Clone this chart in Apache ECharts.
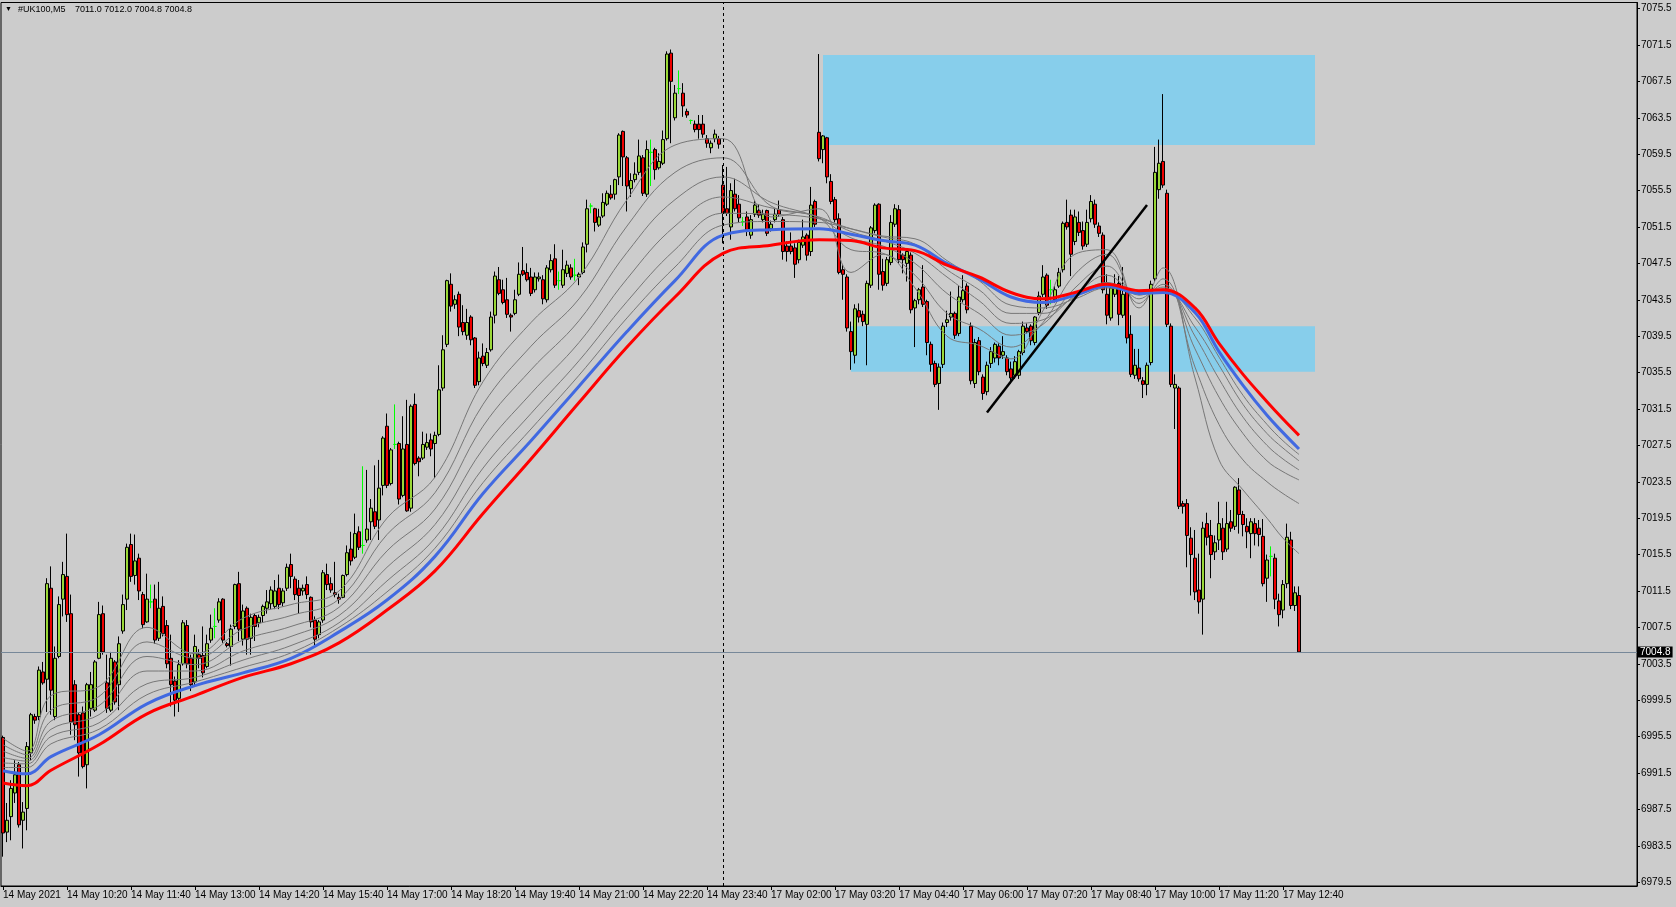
<!DOCTYPE html>
<html><head><meta charset="utf-8">
<script src="https://cdn.jsdelivr.net/npm/echarts@6.0.0/dist/echarts.min.js"></script>
<style>html,body{margin:0;padding:0;background:#CCCCCC;}#c{width:1676px;height:907px;}</style>
</head><body><div id="c"></div>
<script>
// ---- x-axis tick labels (every 16 bars of 5 minutes) ----
const xTickLabels = ['14 May 2021','14 May 10:20','14 May 11:40','14 May 13:00','14 May 14:20','14 May 15:40','14 May 17:00','14 May 18:20','14 May 19:40','14 May 21:00','14 May 22:20','14 May 23:40','17 May 02:00','17 May 03:20','17 May 04:40','17 May 06:00','17 May 07:20','17 May 08:40','17 May 10:00','17 May 11:20','17 May 12:40'];
// ---- price tick labels ----
const yTicks = [6979.5,6983.5,6987.5,6991.5,6995.5,6999.5,7003.5,7007.5,7011.5,7015.5,7019.5,7023.5,7027.5,7031.5,7035.5,7039.5,7043.5,7047.5,7051.5,7055.5,7059.5,7063.5,7067.5,7071.5,7075.5];

// ---- candles ----
const open = [
6995.4,6985.0,6986.7,6989.3,6992.4,6986.3,6987.6,6993.7,6997.7,6997.7,
7002.6,7001.8,7011.8,6997.7,7004.3,7010.6,7013.1,7009.0,7001.2,6997.9,
6998.1,6992.4,6998.6,6998.4,7004.1,7009.0,7001.4,6998.4,7003.7,7001.2,
7007.1,7010.6,7016.6,7013.2,7015.1,7011.1,7008.1,7010.3,7010.6,7006.3,
7009.8,7007.7,7004.1,7001.6,6999.7,7003.5,7007.7,7004.1,7001.5,7004.5,
7004.4,7003.2,7006.1,7007.6,7008.3,7010.6,7005.7,7005.4,7007.6,7012.3,
7006.2,7009.6,7006.3,7008.8,7008.0,7008.8,7009.6,7010.1,7009.8,7011.8,
7010.2,7011.8,7014.4,7012.8,7011.8,7011.5,7012.2,7010.8,7008.3,7006.7,
7008.3,7013.3,7012.3,7011.3,7010.8,7010.8,7013.3,7016.1,7015.2,7018.0,
7016.5,7017.1,7019.1,7020.2,7019.3,7023.1,7029.6,7023.3,7027.6,7027.7,
7022.0,7027.6,7020.6,7032.0,7026.1,7026.1,7027.3,7028.1,7027.7,7028.7,
7033.8,7038.6,7045.2,7043.0,7044.1,7041.0,7039.6,7041.6,7039.3,7034.5,
7037.3,7036.3,7038.0,7041.8,7045.7,7044.6,7043.5,7041.8,7042.0,7044.1,
7046.7,7046.5,7046.0,7044.6,7045.8,7045.7,7043.5,7046.8,7048.0,7045.6,
7045.1,7046.4,7047.0,7046.2,7046.0,7046.5,7049.6,7053.8,7053.5,7051.7,
7052.7,7054.0,7055.1,7055.1,7057.0,7062.0,7059.1,7055.7,7056.7,7057.5,
7059.1,7055.1,7059.7,7060.0,7058.0,7058.5,7061.2,7070.6,7063.5,7066.7,
7066.2,7064.2,7063.2,7062.8,7062.8,7062.8,7061.2,7060.2,7061.2,7061.2,
7056.1,7053.5,7051.5,7055.1,7054.0,7052.1,7052.6,7050.6,7052.9,7053.3,
7052.3,7053.3,7051.3,7052.3,7053.4,7052.3,7049.4,7049.4,7049.2,7047.9,
7049.5,7050.6,7048.8,7054.3,7061.9,7060.0,7061.3,7056.5,7054.5,7052.4,
7046.8,7046.0,7040.0,7037.4,7042.3,7041.9,7040.8,7045.1,7051.1,7054.0,
7046.6,7045.3,7047.6,7051.8,7053.4,7048.4,7047.5,7048.4,7042.6,7043.5,
7044.9,7043.3,7038.6,7036.5,7034.3,7036.4,7041.0,7041.6,7042.0,7039.8,
7043.5,7045.0,7040.6,7034.3,7039.0,7035.0,7033.4,7036.5,7037.1,7038.4,
7037.4,7037.1,7035.9,7035.2,7035.2,7037.7,7040.4,7040.6,7038.8,7042.1,
7044.1,7046.2,7044.6,7043.5,7045.0,7046.8,7052.0,7052.8,7049.9,7052.0,
7051.1,7049.6,7052.4,7054.0,7051.6,7050.6,7044.1,7041.5,7044.1,7045.3,
7041.8,7044.6,7039.7,7035.2,7036.0,7034.6,7034.2,7036.6,7045.8,7055.6,
7058.7,7055.2,7040.6,7033.8,7033.8,7021.1,7021.1,7017.3,7015.1,7011.6,
7010.6,7018.9,7017.6,7015.8,7017.1,7018.4,7016.1,7019.1,7018.6,7022.6,
7019.9,7018.6,7017.8,7018.9,7018.4,7017.5,7012.9,7015.3,7015.1,7010.4,
7009.4,7012.3,7017.1,7009.9,7011.0];
const close = [
6984.9,6986.3,6989.8,6991.3,6985.8,6987.2,6994.4,6997.9,6997.3,7002.8,
7001.4,7012.3,7000.6,7004.1,7010.0,7013.3,7008.9,6997.1,6996.8,6993.7,
6992.2,7001.2,7001.2,7003.7,7008.9,7004.8,6998.6,7004.1,6999.3,7005.7,
7010.0,7016.3,7013.1,7014.8,7011.5,7007.8,7010.6,7010.3,7006.1,7009.6,
7006.8,7003.5,7001.2,6999.5,7003.4,7008.0,7003.5,7001.2,7005.4,7004.1,
7002.5,7005.7,7007.4,7007.6,7010.3,7006.1,7005.5,7007.3,7012.2,7007.3,
7009.3,7006.2,7008.6,7007.6,7008.6,7009.8,7010.3,7011.6,7011.5,7010.0,
7011.5,7014.1,7013.1,7011.1,7011.0,7011.8,7011.1,7008.1,7006.2,7008.1,
7013.5,7012.2,7011.6,7011.1,7010.6,7013.2,7015.7,7014.8,7017.8,7016.3,
7016.5,7018.3,7020.6,7018.6,7022.8,7028.3,7023.1,7027.0,7027.6,7021.6,
7027.1,7020.3,7031.8,7025.5,7025.7,7027.6,7027.8,7027.1,7028.6,7033.6,
7038.0,7045.6,7042.8,7043.5,7040.5,7040.0,7041.0,7039.1,7034.1,7037.1,
7036.5,7037.7,7041.6,7046.1,7044.2,7043.2,7041.9,7041.6,7043.5,7046.3,
7046.3,7045.7,7044.2,7046.0,7046.0,7043.6,7047.0,7047.8,7045.1,7045.6,
7046.8,7047.3,7046.0,7046.2,7046.3,7049.3,7053.5,7053.8,7052.0,7052.6,
7054.2,7055.2,7054.7,7056.7,7061.6,7059.2,7056.0,7056.6,7057.3,7059.3,
7055.2,7060.0,7059.7,7057.8,7058.7,7061.1,7070.5,7067.5,7066.2,7066.7,
7064.8,7063.8,7063.2,7062.2,7062.2,7061.7,7060.7,7060.7,7061.7,7060.6,
7053.0,7053.0,7055.5,7053.5,7052.5,7052.1,7051.0,7052.3,7053.9,7052.8,
7052.9,7050.8,7051.8,7052.9,7052.9,7048.8,7048.8,7048.8,7047.4,7049.8,
7050.4,7048.4,7053.9,7051.8,7059.0,7061.5,7057.0,7054.3,7052.3,7046.5,
7046.3,7040.4,7037.8,7042.5,7041.6,7041.1,7045.3,7051.4,7053.9,7046.3,
7045.1,7047.9,7052.0,7053.5,7047.9,7047.9,7048.8,7042.4,7043.4,7044.6,
7043.0,7038.8,7036.4,7034.2,7036.1,7040.6,7041.3,7042.0,7039.6,7043.8,
7044.5,7042.4,7034.6,7038.8,7035.6,7033.2,7036.3,7037.8,7038.6,7037.1,
7037.8,7035.6,7034.9,7036.7,7037.8,7040.6,7040.0,7039.0,7041.6,7043.9,
7046.0,7042.9,7044.6,7044.6,7046.5,7051.9,7051.5,7048.5,7052.6,7050.9,
7049.4,7052.0,7054.3,7051.8,7050.8,7044.6,7041.8,7044.8,7044.9,7041.9,
7044.1,7039.3,7035.3,7036.3,7034.8,7034.2,7036.3,7045.2,7057.5,7058.5,
7056.1,7040.8,7034.2,7034.2,7020.8,7020.8,7017.6,7015.5,7011.4,7010.3,
7018.4,7017.4,7015.5,7016.8,7018.9,7015.8,7018.9,7018.4,7022.9,7019.9,
7018.8,7018.0,7019.1,7017.8,7017.7,7012.3,7014.9,7015.3,7010.6,7008.9,
7012.2,7017.4,7009.9,7011.3,7004.8];
const high = [
6995.6,6988.2,6990.7,6992.9,6992.7,6988.3,6994.9,6998.1,6998.0,7003.2,
7003.7,7012.9,7014.2,7005.4,7010.9,7014.7,7017.8,7011.1,7001.7,6998.1,
6998.8,7001.4,7002.6,7003.9,7010.3,7009.9,7004.5,7004.8,7003.9,7006.5,
7011.1,7016.7,7017.8,7017.7,7015.6,7011.4,7013.4,7012.2,7012.2,7012.5,
7010.9,7008.3,7006.7,7002.1,7003.9,7008.3,7008.3,7004.5,7006.7,7005.1,
7007.6,7006.7,7008.9,7009.6,7010.7,7010.7,7005.9,7007.8,7012.3,7013.6,
7010.0,7009.8,7009.0,7009.0,7008.9,7010.0,7011.6,7012.0,7012.7,7013.3,
7011.8,7014.5,7015.6,7013.1,7012.7,7012.2,7013.1,7010.9,7008.7,7008.3,
7013.8,7014.5,7013.0,7014.7,7011.2,7013.3,7016.5,7018.0,7020.0,7018.6,
7025.2,7024.8,7021.6,7025.3,7025.9,7028.5,7031.0,7027.2,7032.0,7027.9,
7030.7,7032.5,7032.0,7033.2,7026.3,7029.0,7028.8,7028.8,7029.0,7036.3,
7039.6,7045.7,7046.4,7044.0,7044.4,7042.9,7042.5,7041.8,7039.4,7037.8,
7038.7,7038.2,7042.2,7046.6,7047.1,7045.7,7045.9,7042.0,7044.6,7047.6,
7049.3,7047.5,7047.0,7046.5,7046.5,7046.2,7047.3,7048.5,7049.6,7046.6,
7049.0,7047.8,7047.4,7048.0,7046.5,7049.8,7054.5,7054.1,7053.6,7053.5,
7055.2,7055.5,7056.1,7056.8,7061.8,7062.1,7059.3,7057.4,7058.6,7061.1,
7059.4,7061.0,7061.1,7060.2,7059.6,7062.1,7070.8,7071.0,7067.1,7068.7,
7067.3,7064.5,7063.3,7063.2,7063.8,7063.8,7061.6,7061.0,7062.2,7061.5,
7058.3,7058.1,7056.3,7056.8,7055.0,7052.6,7053.2,7052.8,7054.4,7054.0,
7053.4,7053.4,7052.2,7053.5,7054.4,7052.6,7049.9,7050.9,7049.7,7050.1,
7052.3,7050.8,7055.9,7054.5,7070.5,7061.6,7061.4,7057.3,7054.8,7053.0,
7047.3,7046.3,7041.1,7043.0,7043.1,7042.3,7045.6,7051.6,7054.1,7054.1,
7048.0,7048.2,7052.8,7054.0,7053.9,7048.6,7049.0,7048.7,7043.6,7044.8,
7047.3,7043.5,7038.9,7036.8,7036.5,7041.0,7042.3,7044.4,7042.2,7045.0,
7046.2,7045.3,7041.0,7039.2,7039.4,7035.3,7036.7,7038.3,7038.8,7038.7,
7039.5,7037.4,7036.7,7037.3,7038.0,7041.1,7040.9,7040.8,7041.7,7044.4,
7047.3,7046.4,7045.7,7045.0,7047.0,7052.1,7054.5,7053.4,7053.4,7053.2,
7052.1,7053.4,7055.0,7054.5,7052.0,7050.9,7046.3,7045.2,7046.3,7046.1,
7047.1,7044.9,7041.8,7038.1,7038.1,7035.0,7036.6,7045.6,7060.3,7061.1,
7066.1,7055.6,7040.9,7035.3,7034.0,7021.4,7021.6,7018.5,7018.2,7015.6,
7019.1,7020.1,7019.3,7017.6,7021.3,7019.5,7021.3,7020.4,7023.0,7023.9,
7020.3,7019.5,7019.5,7019.5,7019.3,7019.4,7015.5,7016.4,7015.6,7011.2,
7012.7,7018.9,7018.0,7012.0,7012.0];
const low = [
6982.3,6983.9,6984.1,6988.2,6985.5,6983.2,6985.2,6992.9,6996.9,6997.3,
7001.2,6998.2,6997.9,6997.3,7004.1,7008.7,7008.1,6995.7,6995.1,6991.1,
6992.0,6989.8,6997.7,6998.2,7004.0,7004.5,6998.1,6998.2,6999.0,6998.4,
7006.8,7009.4,7012.5,7012.2,7010.5,7007.4,7008.0,7009.6,7005.7,7006.0,
7006.5,7003.0,6998.8,6997.7,6998.2,7003.3,7003.0,7000.5,7001.0,7003.0,
7002.0,7003.0,7005.8,7006.3,7008.0,7005.8,7005.3,7003.3,7007.3,7006.0,
7005.5,7004.5,7004.5,7006.0,7007.5,7008.0,7009.0,7009.5,7009.5,7009.5,
7009.8,7011.5,7011.8,7010.5,7009.0,7011.0,7010.6,7007.5,7005.5,7006.3,
7008.0,7011.6,7011.3,7010.8,7010.1,7010.7,7013.1,7014.3,7015.0,7016.0,
7015.6,7016.8,7017.1,7018.3,7017.1,7022.0,7022.8,7023.1,7027.1,7021.0,
7021.8,7020.2,7020.2,7025.3,7024.1,7025.9,7027.0,7026.3,7023.9,7028.5,
7033.5,7038.3,7042.2,7042.5,7039.5,7039.6,7039.1,7038.5,7033.8,7034.1,
7036.2,7036.0,7037.8,7040.9,7044.0,7043.0,7041.5,7040.0,7041.8,7043.9,
7046.1,7045.5,7043.9,7044.3,7045.5,7043.0,7043.2,7046.5,7044.8,7044.6,
7044.8,7046.0,7045.7,7045.6,7045.1,7046.3,7048.7,7053.0,7051.0,7051.5,
7052.5,7053.8,7054.5,7054.5,7056.1,7056.0,7053.2,7054.8,7056.4,7057.2,
7054.9,7054.8,7056.0,7056.7,7057.8,7058.3,7061.0,7060.7,7063.2,7066.1,
7063.6,7063.5,7062.8,7061.9,7061.2,7061.3,7060.2,7059.6,7060.8,7060.1,
7049.7,7052.7,7050.1,7053.2,7052.0,7051.6,7050.5,7050.2,7052.6,7052.5,
7052.0,7050.5,7051.0,7052.0,7052.6,7047.9,7047.7,7048.5,7045.9,7047.5,
7049.2,7047.8,7048.3,7051.5,7058.7,7058.5,7056.3,7054.0,7052.0,7046.3,
7043.5,7040.0,7035.8,7036.5,7041.0,7040.6,7036.3,7044.8,7050.8,7044.6,
7044.5,7045.0,7047.3,7051.5,7047.5,7046.4,7045.5,7042.0,7038.3,7043.0,
7042.7,7037.4,7035.6,7033.9,7031.4,7036.0,7040.5,7041.2,7039.2,7039.5,
7043.2,7042.0,7034.2,7033.8,7035.2,7032.5,7033.0,7036.0,7036.6,7036.3,
7037.0,7035.2,7034.3,7034.8,7034.8,7037.4,7039.8,7038.5,7038.5,7041.8,
7043.8,7042.5,7043.0,7043.2,7044.8,7046.5,7051.2,7046.1,7049.5,7050.5,
7049.0,7049.3,7052.0,7051.4,7050.4,7044.2,7040.8,7041.2,7043.8,7040.7,
7041.5,7038.7,7035.0,7034.8,7034.5,7032.7,7033.0,7036.3,7045.5,7054.6,
7055.8,7040.5,7033.9,7029.3,7020.5,7020.0,7014.1,7011.0,7010.5,7009.0,
7006.7,7016.5,7012.9,7014.9,7016.0,7014.9,7015.8,7018.0,7018.2,7017.8,
7017.5,7016.2,7015.1,7016.5,7016.4,7012.0,7010.3,7013.1,7009.5,7007.6,
7008.5,7011.8,7009.5,7009.3,7004.8];

// ---- moving-average lines, read at these bars ----
const maBars = [0,6,12,24,36,48,60,72,84,96,108,120,132,144,156,168,180,192,204,212,220,228,236,244,252,260,268,276,284,290,298,304,310,316,320,324];
const maBlue = [6991.75,6991.4,6993.3,6995.7,6999.1,7001.1,7002.5,7004.1,7007.0,7010.5,7015.3,7022.2,7028.0,7034.0,7040.0,7045.6,7050.6,7051.2,7051.3,7050.7,7050.0,7049.5,7047.5,7045.8,7043.8,7043.2,7044.0,7045.0,7044.2,7044.3,7042.1,7037.8,7034.1,7030.8,7028.9,7027.1];
const maRed = [6990.4,6990.1,6991.8,6994.6,6998.0,7000.0,7002.0,7003.5,7005.8,7009.4,7013.7,7020.0,7026.0,7032.2,7038.3,7043.8,7048.6,7049.5,7050.1,7050.0,7049.2,7048.9,7047.3,7046.0,7044.3,7043.6,7044.3,7045.2,7044.5,7044.6,7042.6,7038.7,7035.3,7032.3,7030.4,7028.6];
const maGray1 = [6995.3,6993.9,7000.0,7001.0,7007.5,7004.6,7008.5,7010.0,7011.5,7019.5,7024.0,7034.5,7041.0,7046.0,7054.5,7060.5,7061.2,7052.6,7053.5,7046.5,7048.5,7044.8,7039.5,7038.5,7037.0,7042.3,7048.5,7049.0,7042.6,7047.0,7034.9,7025.9,7022.6,7019.5,7017.3,7015.6];
const maGray2 = [6994.6,6993.5,6998.4,6999.9,7005.9,7004.1,7007.3,7008.8,7010.6,7017.7,7022.3,7032.0,7038.4,7043.6,7051.6,7057.5,7059.1,7053.8,7052.5,7049.0,7048.6,7046.2,7042.0,7040.3,7038.3,7041.0,7046.3,7048.5,7043.1,7045.8,7036.1,7029.8,7025.9,7023.5,7022.2,7021.1];
const maGray3 = [6993.9,6993.1,6997.2,6998.9,7004.3,7003.4,7006.1,7007.6,7009.7,7015.9,7020.5,7029.6,7035.8,7041.2,7048.7,7054.5,7057.0,7054.2,7052.5,7050.3,7049.4,7047.5,7044.2,7042.0,7039.6,7040.8,7044.8,7047.2,7043.6,7045.2,7038.1,7032.8,7028.8,7025.8,7024.6,7023.7];
const maGray4 = [6993.2,6992.8,6996.3,6997.9,7002.7,7002.7,7004.9,7006.5,7008.8,7014.1,7018.8,7027.1,7033.2,7038.8,7045.8,7051.6,7054.8,7053.6,7052.6,7051.0,7050.0,7048.6,7046.0,7043.4,7040.9,7041.3,7044.0,7046.2,7044.0,7044.9,7039.5,7034.8,7030.6,7027.5,7026.0,7024.8];
const maGray5 = [6992.6,6992.5,6995.5,6997.0,7001.3,7002.0,7003.9,7005.5,7008.0,7012.6,7017.3,7025.0,7031.0,7036.8,7043.3,7049.0,7053.0,7052.9,7052.4,7051.3,7050.4,7049.6,7046.8,7044.6,7042.0,7042.0,7043.8,7045.4,7044.2,7044.7,7040.5,7036.3,7032.0,7028.8,7027.2,7025.8];
const maGray6 = [6992.1,6992.1,6994.7,6996.3,7000.1,7001.5,7003.1,7004.7,7007.5,7011.4,7016.2,7023.4,7029.3,7035.2,7041.5,7047.1,7051.7,7052.1,7052.0,7051.3,7050.5,7050.2,7047.8,7045.6,7042.9,7042.6,7043.6,7044.8,7044.3,7044.6,7041.5,7037.2,7033.0,7029.8,7028.0,7026.5];

// ---- drawn objects ----
const zoneUpper = {fromBar:205, toBar:328, top:7070.4, bottom:7060.5};
const zoneLower = {fromBar:212, toBar:328, top:7040.6, bottom:7035.6};
const trendBars = [246, 286];
const trendPrices = [7031.1, 7053.9];
const separatorBar = 180;
const lastPrice = 7004.8;
const header = {symbol:'#UK100,M5', ohlc:'7011.0 7012.0 7004.8 7004.8'};

// ---- build ----
const N = 409;
const cats = Array.from({length:N}, (_, i) => String(i));
const labelAt = {};
xTickLabels.forEach((t, k) => { labelAt[k*16] = t; });
const candleData = open.map((o, i) => [o, close[i], low[i], high[i]]);
const pts = arr => maBars.map((b, i) => [b, arr[i]]);
const showTick = (i) => i % 16 === 0 && i <= 320;
const FONT = 'Liberation Sans';

const grayLine = (arr) => ({
  type:'line', data:pts(arr), smooth:0.4, showSymbol:false, symbol:'none', z:3,
  lineStyle:{color:'#777777', width:1}, silent:true
});

const chart = echarts.init(document.getElementById('c'), null, {renderer:'canvas'});
chart.setOption({
  animation:false,
  backgroundColor:'#CCCCCC',
  textStyle:{fontFamily:FONT},
  grid:{left:1, top:2.5, width:1636, height:883.5, show:true, borderColor:'#000', borderWidth:1, backgroundColor:'transparent'},
  xAxis:{
    type:'category', data:cats, boundaryGap:true,
    axisLine:{show:true, lineStyle:{color:'#000', width:1}},
    axisTick:{show:true, alignWithLabel:true, interval:showTick, length:4, lineStyle:{color:'#000'}},
    axisLabel:{interval:showTick, formatter:(v) => labelAt[Number(v)] || '', align:'left', color:'#000', fontSize:10, fontFamily:FONT, margin:4},
    splitLine:{show:false}
  },
  yAxis:{
    type:'value', position:'right', min:6979.077, max:7076.165,
    axisLine:{show:true, lineStyle:{color:'#000', width:1}},
    axisTick:{show:true, customValues:yTicks, length:3, lineStyle:{color:'#000'}},
    axisLabel:{customValues:yTicks, formatter:(v) => Number(v).toFixed(1), align:'left', color:'#000', fontSize:10, fontFamily:FONT, margin:4},
    splitLine:{show:false}
  },
  graphic:[
    {type:'text', left:5, top:6, style:{text:'\u25BC', fontSize:7, fill:'#000'}},
    {type:'text', left:18, top:5, style:{text:header.symbol, font:'9px "Liberation Sans"', fill:'#000'}},
    {type:'text', left:75, top:5, style:{text:header.ohlc, font:'9px "Liberation Sans"', fill:'#000'}}
  ],
  series:[
    {
      type:'line', data:[[zoneUpper.fromBar, zoneUpper.top]], symbol:'none', showSymbol:false,
      lineStyle:{opacity:0, width:0}, z:1, silent:true,
      markArea:{silent:true, itemStyle:{color:'#87CEEB', opacity:1},
        data:[
          [{xAxis:zoneUpper.fromBar, yAxis:zoneUpper.top},{xAxis:zoneUpper.toBar, yAxis:zoneUpper.bottom}],
          [{xAxis:zoneLower.fromBar, yAxis:zoneLower.top},{xAxis:zoneLower.toBar, yAxis:zoneLower.bottom}]
        ]},
      markLine:{silent:true, symbol:['none','none'], animation:false,
        data:[
          {yAxis:lastPrice, lineStyle:{color:'#778899', width:1, type:'solid'},
           label:{show:true, position:'end', formatter:lastPrice.toFixed(1), backgroundColor:'#000', color:'#fff', padding:[1,2,0,2], fontSize:10, fontFamily:FONT, distance:1}},
          {xAxis:separatorBar, lineStyle:{color:'#000', width:1, type:[3,3]}, label:{show:false}}
        ]}
    },
    {
      type:'candlestick', data:candleData, barWidth:3, z:2,
      itemStyle:{color:'#9AD838', color0:'#EE0000', borderColor:'#000', borderColor0:'#000', borderColorDoji:'#00FF00', borderWidth:1}
    },
    grayLine(maGray1), grayLine(maGray2), grayLine(maGray3), grayLine(maGray4), grayLine(maGray5), grayLine(maGray6),
    {type:'line', data:pts(maBlue), smooth:0.4, showSymbol:false, symbol:'none', z:4, lineStyle:{color:'#4169E1', width:3}, silent:true},
    {type:'line', data:pts(maRed), smooth:0.4, showSymbol:false, symbol:'none', z:5, lineStyle:{color:'#FF0000', width:3}, silent:true},
    {type:'line', data:trendBars.map((b, i) => [b, trendPrices[i]]), showSymbol:false, symbol:'none', z:6, lineStyle:{color:'#000', width:2.5}, silent:true}
  ]
});
</script>
</body></html>
